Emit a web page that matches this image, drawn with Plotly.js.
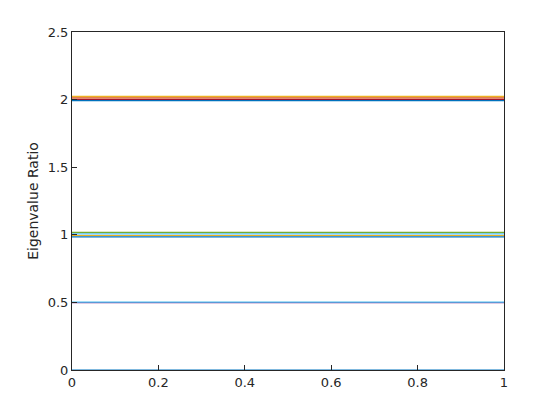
<!DOCTYPE html>
<html>
<head>
<meta charset="utf-8">
<script src="https://cdn.plot.ly/plotly-3.0.1.min.js"></script>
<style>html,body{margin:0;padding:0;background:#fff;}#chart{width:558px;height:417px;}</style>
</head>
<body>
<div id="chart"></div>
<script>
// x extent of each horizontal line
const xValues = [0, 1];
// eigenvalue ratio levels (constant across x)
const levelBlue0 = 0;
const levelPurpleHalf = 0.498;
const levelLightBlueHalf = 0.502;
const levelBlueOne = 0.985;
const levelYellowOne = 0.995;
const levelLightBlueOne = 1.007;
const levelGreenOne = 1.018;
const levelBlueTwo = 1.992;
const levelRedTwo = 2.002;
const levelOrangeTwo = 2.013;
const levelYellowTwo = 2.024;
const xTicks = [0, 0.2, 0.4, 0.6, 0.8, 1];
const xTickLabels = ['0', '0.2', '0.4', '0.6', '0.8', '1'];
const yTicks = [0, 0.5, 1, 1.5, 2, 2.5];
const yTickLabels = ['0', '0.5', '1', '1.5', '2', '2.5'];

const C = {
  blue: '#0072BD', orange: '#D95319', yellow: '#EDB120', purple: '#7E2F8E',
  green: '#77AC30', lightblue: '#4DBEEE', red: '#A2142F'
};

const lines = [
  [levelBlue0, C.blue],
  [levelPurpleHalf, C.purple],
  [levelLightBlueHalf, C.lightblue],
  [levelBlueOne, C.blue],
  [levelYellowOne, C.yellow],
  [levelLightBlueOne, C.lightblue],
  [levelGreenOne, C.green],
  [levelBlueTwo, C.blue],
  [levelRedTwo, C.red],
  [levelOrangeTwo, C.orange],
  [levelYellowTwo, C.yellow]
];

const traces = lines.map(([lv, col]) => ({
  x: xValues,
  y: xValues.map(() => lv),
  type: 'scatter',
  mode: 'lines',
  line: {color: col, width: 1.2},
  hoverinfo: 'skip',
  showlegend: false
}));

const axisCommon = {
  showline: true, mirror: true, linecolor: '#262626', linewidth: 1,
  ticks: 'inside', ticklen: 5, tickwidth: 1, tickcolor: '#262626',
  showgrid: false, zeroline: false,
  tickfont: {family: 'DejaVu Sans, sans-serif', size: 13, color: '#262626'}
};

const layout = {
  width: 558, height: 417,
  margin: {l: 72, r: 54, t: 32, b: 47, pad: 0},
  paper_bgcolor: '#fff', plot_bgcolor: '#fff',
  xaxis: Object.assign({}, axisCommon, {
    range: [0, 1], tickvals: xTicks, ticktext: xTickLabels
  }),
  yaxis: Object.assign({}, axisCommon, {
    range: [0, 2.5], tickvals: yTicks, ticktext: yTickLabels,
    title: {text: 'Eigenvalue Ratio', font: {family: 'DejaVu Sans, sans-serif', size: 14, color: '#262626'}, standoff: 5}
  })
};

Plotly.newPlot('chart', traces, layout, {staticPlot: true, displayModeBar: false});
</script>
</body>
</html>
